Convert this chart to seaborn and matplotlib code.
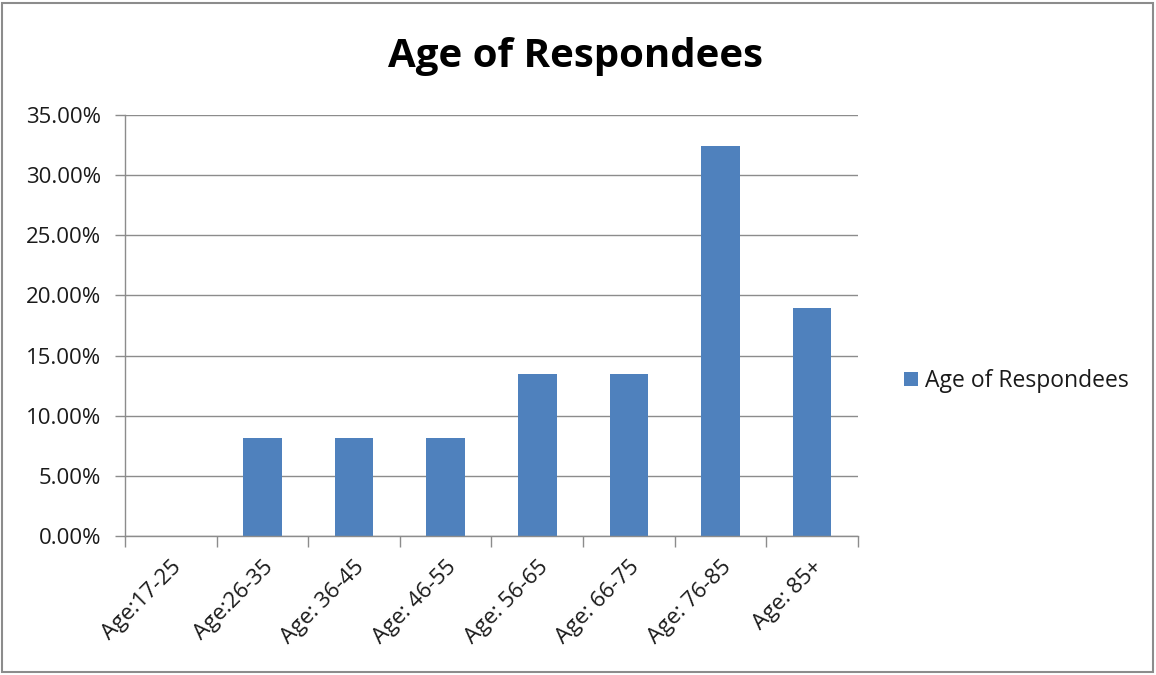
import matplotlib
matplotlib.use("Agg")
import matplotlib.pyplot as plt
import seaborn as sns
import pandas as pd
from matplotlib.ticker import FuncFormatter, FixedLocator
from matplotlib.patches import Rectangle

categories = ["Age:17-25", "Age:26-35", "Age: 36-45", "Age: 46-55",
              "Age: 56-65", "Age: 66-75", "Age: 76-85", "Age: 85+"]
values = [0.0, 8.11, 8.11, 8.11, 13.51, 13.51, 32.43, 18.92]
series_name = "Age of Respondees"
y_ticks = [0, 5, 10, 15, 20, 25, 30, 35]

sns.set_theme(style="white")
plt.rcParams['font.family'] = ['Open Sans', 'DejaVu Sans']

df = pd.DataFrame({"cat": categories, "val": values, "series": series_name})

fig = plt.figure(figsize=(11.56, 6.75), dpi=100)
ax = fig.add_axes([0.1081, 0.2059, 0.6341, 0.6237])

sns.barplot(data=df, x="cat", y="val", hue="series", palette=["#4F81BD"],
            width=0.42, ax=ax, saturation=1, edgecolor="none")

ax.set_ylim(0, 35)
ax.set_xlim(-0.5, len(categories) - 0.5)
ax.yaxis.set_major_locator(FixedLocator(y_ticks))
ax.yaxis.set_major_formatter(FuncFormatter(lambda v, p: f"{v:.2f}%"))
ax.grid(axis="y", color="#8C8C8C", linewidth=1.0)
ax.set_axisbelow(True)
for s in ["top", "right"]:
    ax.spines[s].set_visible(False)
for s in ["left", "bottom"]:
    ax.spines[s].set_color("#8C8C8C")
    ax.spines[s].set_linewidth(1.0)

ax.set_xlabel("")
ax.set_ylabel("")
ax.tick_params(axis="y", which="major", left=True, length=7, width=1,
               color="#8C8C8C", labelsize=16, labelcolor="#1a1a1a", pad=10)
ax.tick_params(axis="x", which="major", bottom=False, labelsize=16,
               labelcolor="#1a1a1a", pad=9)
ax.set_xticks(range(len(categories)))
ax.set_xticklabels(categories, rotation=45, ha="right", rotation_mode="anchor")
ax.set_xticks([i - 0.5 for i in range(len(categories) + 1)], minor=True)
ax.tick_params(axis="x", which="minor", bottom=True, length=8, width=1,
               color="#8C8C8C")

fig.text(0.4975, 0.9156, "Age of Respondees", ha="center", va="center",
         fontsize=29, fontweight="bold", color="black")

leg = ax.legend(loc="center left", bbox_to_anchor=(1.035, 0.368), frameon=False,
                fontsize=16.5, handlelength=0.6, handleheight=0.6,
                handletextpad=0.3, labelcolor="#1a1a1a")

fig.patches.append(Rectangle((0.002, 0.004), 0.995, 0.992, transform=fig.transFigure,
                             fill=False, edgecolor="#8C8C8C", linewidth=1.5))

fig.savefig("out.png", dpi=100)
